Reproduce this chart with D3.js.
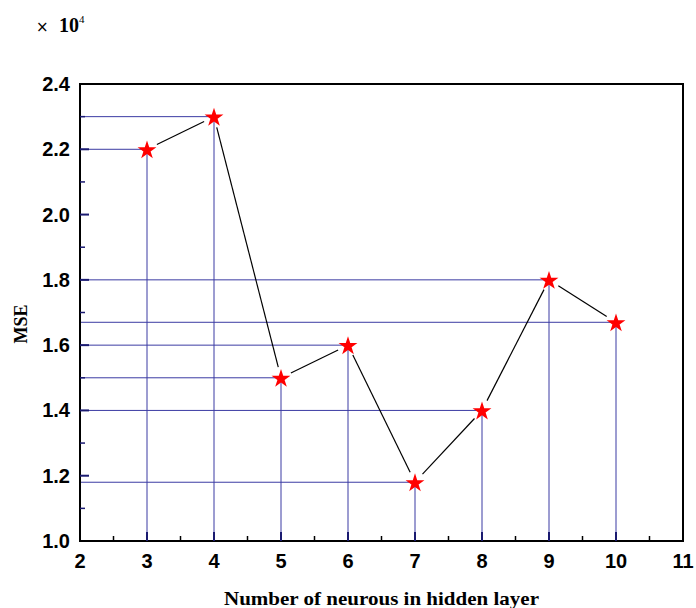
<!DOCTYPE html>
<html>
<head>
<meta charset="utf-8">
<script src="https://cdn.jsdelivr.net/npm/d3@7"></script>
<style>
  body { margin: 0; background: #fff; }
</style>
</head>
<body>
<div id="chart"></div>
<script>
// data
const neurons = [3, 4, 5, 6, 7, 8, 9, 10]
const mse = [2.2, 2.3, 1.5, 1.6, 1.18, 1.4, 1.8, 1.67]
const xTicks = [2, 3, 4, 5, 6, 7, 8, 9, 10, 11]
const yTicks = [1.0, 1.2, 1.4, 1.6, 1.8, 2.0, 2.2, 2.4]

const width = 696, height = 608
const margin = {left: 80, right: 13, top: 84, bottom: 67}

const svg = d3.select("#chart").append("svg")
  .attr("width", width)
  .attr("height", height)

const x = d3.scaleLinear().domain([2, 11]).range([margin.left, width - margin.right])
const y = d3.scaleLinear().domain([1.0, 2.4]).range([height - margin.bottom, margin.top])

const blue = "#3b3ba3"
const pts = neurons.map((n, i) => ({n, v: mse[i]}))

// drop lines
svg.append("g")
  .attr("stroke", blue)
  .attr("stroke-width", 1)
  .selectAll("line.h")
  .data(pts)
  .join("line")
  .attr("x1", x(2)).attr("x2", d => x(d.n))
  .attr("y1", d => y(d.v)).attr("y2", d => y(d.v))

svg.append("g")
  .attr("stroke", blue)
  .attr("stroke-width", 1)
  .selectAll("line.v")
  .data(pts)
  .join("line")
  .attr("x1", d => x(d.n)).attr("x2", d => x(d.n))
  .attr("y1", d => y(d.v)).attr("y2", y(1.0))

// connecting line, with gaps around the markers
const gap = 11
const segs = d3.pairs(pts).map(([a, b]) => {
  const x1 = x(a.n), y1 = y(a.v), x2 = x(b.n), y2 = y(b.v)
  const len = Math.hypot(x2 - x1, y2 - y1)
  const ux = (x2 - x1) / len, uy = (y2 - y1) / len
  return [x1 + ux * gap, y1 + uy * gap, x2 - ux * gap, y2 - uy * gap]
})
svg.append("g")
  .attr("stroke", "#000")
  .attr("stroke-width", 1.2)
  .selectAll("line")
  .data(segs)
  .join("line")
  .attr("x1", d => d[0]).attr("y1", d => d[1])
  .attr("x2", d => d[2]).attr("y2", d => d[3])

// frame
svg.append("rect")
  .attr("x", x(2)).attr("y", y(2.4))
  .attr("width", x(11) - x(2))
  .attr("height", y(1.0) - y(2.4))
  .attr("fill", "none")
  .attr("stroke", "#000")
  .attr("stroke-width", 2)

// x ticks (inside)
const xMinor = d3.range(2.5, 11, 1)
svg.append("g").selectAll("line")
  .data(xMinor).join("line")
  .attr("x1", d => x(d)).attr("x2", d => x(d))
  .attr("y1", y(1.0)).attr("y2", y(1.0) - 5)
  .attr("stroke", "#000").attr("stroke-width", 1.5)
svg.append("g").selectAll("line")
  .data(xTicks.slice(1, -1)).join("line")
  .attr("x1", d => x(d)).attr("x2", d => x(d))
  .attr("y1", y(1.0)).attr("y2", y(1.0) - 9)
  .attr("stroke", "#1a1a70").attr("stroke-width", 2)

// y ticks (inside)
const yMinor = d3.range(1.1, 2.4, 0.2)
svg.append("g").selectAll("line")
  .data(yMinor).join("line")
  .attr("x1", x(2)).attr("x2", x(2) + 5)
  .attr("y1", d => y(d)).attr("y2", d => y(d))
  .attr("stroke", "#1a1a70").attr("stroke-width", 1.5)
svg.append("g").selectAll("line")
  .data(yTicks.slice(1, -1)).join("line")
  .attr("x1", x(2)).attr("x2", x(2) + 9)
  .attr("y1", d => y(d)).attr("y2", d => y(d))
  .attr("stroke", "#1a1a70").attr("stroke-width", 2)

// tick labels
svg.append("g")
  .attr("font-family", "Liberation Sans, Arial, sans-serif")
  .attr("font-weight", "bold")
  .attr("font-size", 20)
  .attr("text-anchor", "middle")
  .selectAll("text")
  .data(xTicks).join("text")
  .attr("x", d => x(d))
  .attr("y", y(1.0) + 27)
  .text(d => d)

svg.append("g")
  .attr("font-family", "Liberation Sans, Arial, sans-serif")
  .attr("font-weight", "bold")
  .attr("font-size", 20)
  .attr("text-anchor", "end")
  .selectAll("text")
  .data(yTicks).join("text")
  .attr("x", x(2) - 10)
  .attr("y", d => y(d) + 7)
  .text(d => d3.format(".1f")(d))

// markers
svg.append("g")
  .selectAll("path")
  .data(pts).join("path")
  .attr("transform", d => `translate(${x(d.n)},${y(d.v) + 1})`)
  .attr("d", d3.symbol(d3.symbolStar, 110))
  .attr("fill", "#ff0000")

// axis titles
svg.append("text")
  .attr("x", (x(2) + x(11)) / 2)
  .attr("y", 605)
  .attr("text-anchor", "middle")
  .attr("font-family", "Liberation Serif, Times New Roman, serif")
  .attr("font-weight", "bold")
  .attr("font-size", 19)
  .attr("textLength", 315)
  .attr("lengthAdjust", "spacingAndGlyphs")
  .text("Number of neurous in hidden layer")

svg.append("text")
  .attr("transform", `translate(27,324) rotate(-90)`)
  .attr("text-anchor", "middle")
  .attr("font-family", "Liberation Serif, Times New Roman, serif")
  .attr("font-weight", "bold")
  .attr("font-size", 18)
  .text("MSE")

// exponent label
svg.append("text")
  .attr("x", 36).attr("y", 32)
  .attr("font-family", "DejaVu Sans, sans-serif")
  .attr("font-size", 15)
  .text("\u00d7")
const exp = svg.append("text")
  .attr("x", 59)
  .attr("y", 32)
  .attr("font-family", "Liberation Serif, Times New Roman, serif")
  .attr("font-weight", "bold")
  .attr("font-size", 20)
exp.append("tspan").text("10")
exp.append("tspan").attr("dy", -9).attr("font-size", 11).attr("font-weight", "normal").text("4")
</script>
</body>
</html>
